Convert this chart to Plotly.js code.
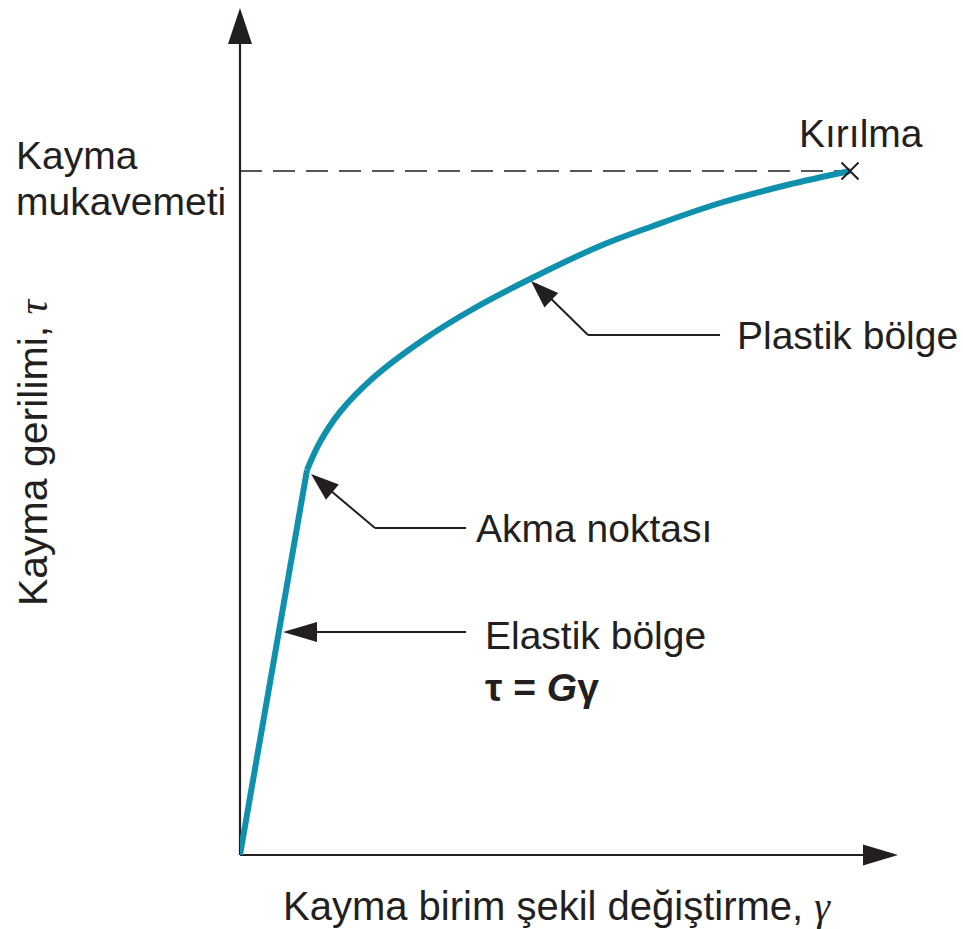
<!DOCTYPE html>
<html>
<head>
<meta charset="utf-8">
<script src="https://cdn.plot.ly/plotly-3.0.1.min.js"></script>
<style>
  html, body { margin: 0; padding: 0; background: #fff; }
  #chart { width: 963px; height: 929px; }
</style>
</head>
<body>
<div id="chart"></div>
<script>
// Shear stress–strain curve (arbitrary units)
// Elastic part: straight line from the origin to the yield point
const elasticStrain = [0, 0.67];
const elasticStress = [0, 3.85];

// Plastic part: from the yield point to fracture
const plasticStrain = [0.67, 0.80, 1.00, 1.33, 1.83, 2.33, 2.90, 3.60, 4.13, 4.80, 5.47, 6.10];
const plasticStress = [3.85, 4.13, 4.43, 4.77, 5.15, 5.46, 5.76, 6.09, 6.29, 6.52, 6.70, 6.84];

// Fracture point and shear strength level
const fractureStrain = [6.10];
const fractureStress = [6.84];
const shearStrength = 6.84;

// Labels
const SERIF = '<span style="font-family:Liberation Serif, Times New Roman, serif"><i>';
const xTitle = 'Kayma birim şekil değiştirme, ' + SERIF + 'γ</i></span>';
const yTitle = 'Kayma gerilimi, ' + SERIF + 'τ</i></span>';
const strengthLabel = ['Kayma', 'mukavemeti'];
const fractureLabel = 'Kırılma';
const plasticLabel = 'Plastik bölge';
const yieldLabel = 'Akma noktası';
const elasticLabel = 'Elastik bölge';
const elasticLaw = '<b>τ = <i>G</i>γ</b>';

const INK = '#231f20';
const TEAL = '#0f91ad';
const FONT = 'Liberation Sans, Arial, sans-serif';
const SIZE = 39;

// Filled arrow head with its tip at (x, y); direction (dx, dy) with y pointing up, in pixels
function head(ref, x, y, dx, dy, len, halfW) {
  const n = Math.hypot(dx, dy);
  const ux = dx / n, uy = dy / n;
  const bx = -ux * len, by = -uy * len;
  const px = -uy * halfW, py = ux * halfW;
  const path = `M0,0 L${(bx + px).toFixed(2)},${(by + py).toFixed(2)} L${(bx - px).toFixed(2)},${(by - py).toFixed(2)} Z`;
  return {
    type: 'path', xref: ref ? 'paper' : 'x', yref: ref ? 'paper' : 'y',
    xsizemode: 'pixel', ysizemode: 'pixel', xanchor: x, yanchor: y,
    path: path, fillcolor: INK, line: { width: 0 }, layer: 'above'
  };
}

function seg(x0, y0, x1, y1, w, paper, layer) {
  return { type: 'line', xref: paper ? 'paper' : 'x', yref: paper ? 'paper' : 'y', x0, y0, x1, y1,
    line: { color: INK, width: w }, layer: layer || 'above' };
}

const shapes = [
  // axes with arrow heads
  seg(0, 0, 0, 0.97, 2.2, true, 'below'),
  seg(0, 0, 0.955, 0, 2.2, true, 'below'),
  head(true, 0, 0.9965, 0, 1, 36, 12),
  head(true, 0.997, 0, 1, 0, 35, 10.5),
  // shear strength level
  { type: 'line', xref: 'x', yref: 'y', x0: 0, x1: fractureStrain[0], y0: shearStrength, y1: shearStrength,
    line: { color: INK, width: 1.4, dash: '22px,11px' }, layer: 'below' },
  // plastic region callout
  seg(3.48, 5.20, 2.96, 5.71, 2),
  seg(3.48, 5.20, 4.80, 5.20, 2),
  head(false, 2.91, 5.74, -57, 54, 28, 10),
  // yield point callout
  seg(1.35, 3.27, 0.78, 3.75, 2),
  seg(1.35, 3.27, 2.26, 3.27, 2),
  head(false, 0.71, 3.81, -64, 54, 28, 10),
  // elastic region callout
  seg(0.70, 2.23, 2.26, 2.23, 2),
  head(false, 0.43, 2.23, -1, 0, 34, 10)
];

function label(text, x, y, xanchor, extra) {
  return Object.assign({
    text, x, y, xref: 'paper', yref: 'paper', xanchor, yanchor: 'middle',
    showarrow: false, align: 'left',
    font: { family: FONT, size: SIZE, color: INK }
  }, extra || {});
}

const annotations = [
  label(strengthLabel[0], -0.3424, 0.8224, 'left'),
  label(strengthLabel[1], -0.3424, 0.7694, 'left'),
  label(fractureLabel, 0.8439, 0.8494, 'left'),
  label(plasticLabel, 0.750, 0.6106, 'left'),
  label(yieldLabel, 0.3545, 0.3847, 'left'),
  label(elasticLabel, 0.3682, 0.2588, 'left'),
  label(elasticLaw, 0.3682, 0.1965, 'left'),
  label(xTitle, 0.4803, -0.060, 'center', { font: { family: FONT, size: 40, color: INK } }),
  label(yTitle, -0.3136, 0.4741, 'center', { textangle: -90, font: { family: FONT, size: 41, color: INK } })
];

const traces = [
  { x: elasticStrain, y: elasticStress, mode: 'lines', type: 'scatter',
    line: { color: TEAL, width: 6 }, hoverinfo: 'skip' },
  { x: plasticStrain, y: plasticStress, mode: 'lines', type: 'scatter',
    line: { color: TEAL, width: 6, shape: 'spline', smoothing: 1 }, hoverinfo: 'skip' },
  { x: fractureStrain, y: fractureStress, mode: 'markers', type: 'scatter',
    marker: { symbol: 'x-thin-open', size: 17, color: INK, line: { color: INK, width: 2 } }, hoverinfo: 'skip' }
];

const layout = {
  width: 963, height: 929,
  margin: { l: 240, r: 63, t: 5, b: 74 },
  paper_bgcolor: '#fff', plot_bgcolor: '#fff',
  showlegend: false,
  xaxis: { range: [0, 6.6], visible: false, fixedrange: true },
  yaxis: { range: [0, 8.5], visible: false, fixedrange: true },
  shapes, annotations
};

Plotly.newPlot('chart', traces, layout, { staticPlot: true, displayModeBar: false });
</script>
</body>
</html>
